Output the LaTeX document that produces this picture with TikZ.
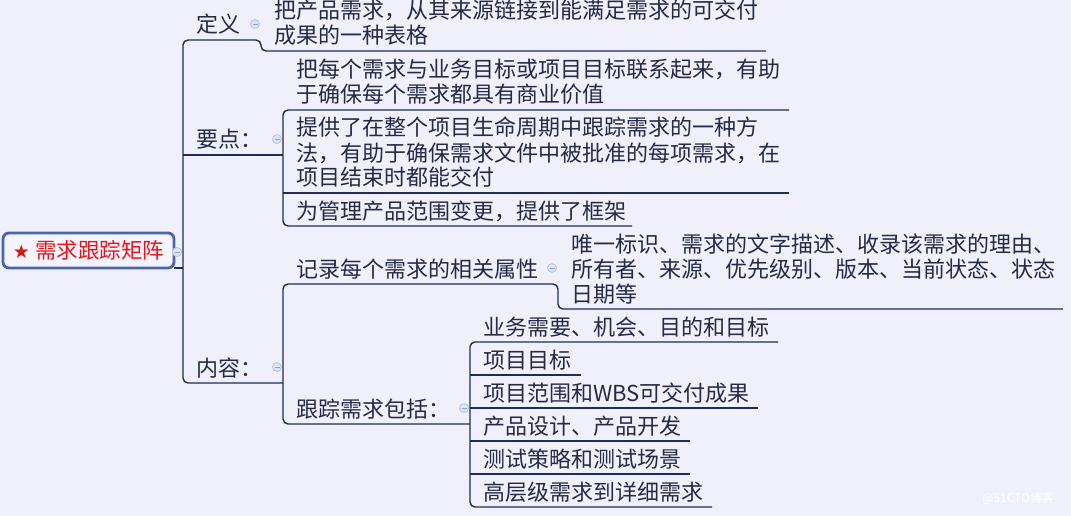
\documentclass[tikz,border=0pt]{standalone}
\usepackage{fontspec}
\setmainfont{Noto Sans CJK SC}
\newfontfamily\symfont{DejaVu Sans}
\usetikzlibrary{calc}
\definecolor{bg}{HTML}{F0F0FA}
\definecolor{ln}{HTML}{1E2C5A}
\definecolor{tx}{HTML}{242A48}
\definecolor{rootbd}{HTML}{4A64B0}
\definecolor{rootfill}{HTML}{F4F4FC}
\definecolor{rootred}{HTML}{E8141C}
\definecolor{starred}{HTML}{D01818}
\definecolor{cbd}{HTML}{B4C3E6}
\definecolor{cfill}{HTML}{DDE4F4}
\definecolor{cmin}{HTML}{8FA3D4}
\begin{document}
\begin{tikzpicture}[x=1pt,y=-1pt,
  topic/.style={anchor=south west, inner xsep=13pt, inner ysep=7pt, outer sep=0pt,
    text depth=0pt, font=\fontsize{22}{25}\selectfont, text=tx, align=left},
  twolines/.style={text depth=25pt},
  threelines/.style={text depth=50pt},
  conn/.style={draw=ln, line width=1.4pt, rounded corners=5pt},
  rootbox/.style={draw=rootbd, fill=rootfill, line width=2.8pt, rounded corners=6pt,
    minimum width=171pt, minimum height=35pt, inner sep=0pt, outer sep=0pt,
    font=\fontsize{21.5}{25}\selectfont, text=rootred},
  collapse/.style={circle, minimum size=9pt, inner sep=0pt, draw=cbd, fill=cfill, line width=0.8pt,
    path picture={\draw[cmin, line width=0.9pt] ($(path picture bounding box.center)+(-2.5pt,0pt)$) -- ++(5pt,0pt);}}
]
\fill[bg] (0,0) rectangle (1071,516);
\useasboundingbox (0,0) rectangle (1071,516);

% root
\node[rootbox] (root) at (88.5,250.5) {{\symfont\fontsize{19}{19}\selectfont\color{starred}★}\kern5pt需求跟踪矩阵};

% first level
\node[topic, text width=52pt]  (def) at (183,40)  {定义};
\node[topic, text width=74pt]  (yd)  at (183,155) {要点：};
\node[topic, text width=74pt]  (nr)  at (183,383) {内容：};

% children of 定义
\node[topic, twolines, text width=479pt] (dc) at (261,51) {把产品需求，从其来源链接到能满足需求的可交付\\成果的一种表格};

% children of 要点
\node[topic, twolines, text width=480pt] (y1) at (283,110) {把每个需求与业务目标或项目目标联系起来，有助\\于确保每个需求都具有商业价值};
\node[topic, threelines, text width=480pt] (y2) at (283,193) {提供了在整个项目生命周期中跟踪需求的一种方\\法，有助于确保需求文件中被批准的每项需求，在\\项目结束时都能交付};
\node[topic, text width=323pt] (y3) at (283,226) {为管理产品范围变更，提供了框架};

% children of 内容
\node[topic, text width=249pt] (c1)  at (283,284) {记录每个需求的相关属性};
\node[topic, threelines, text width=479pt] (c1c) at (558,309) {唯一标识、需求的文字描述、收录该需求的理由、\\所有者、来源、优先级别、版本、当前状态、状态\\日期等};
\node[topic, text width=161pt] (c2)  at (283,424) {跟踪需求包括：};

% children of 跟踪需求包括
\node[topic, text width=282pt] (t1) at (470,342) {业务需要、机会、目的和目标};
\node[topic, text width=85pt]  (t2) at (470,375) {项目目标};
\node[topic, text width=262pt] (t3) at (470,408) {项目范围和WBS可交付成果};
\node[topic, text width=194pt] (t4) at (470,441) {产品设计、产品开发};
\node[topic, text width=194pt] (t5) at (470,474) {测试策略和测试场景};
\node[topic, text width=216pt] (t6) at (470,507) {高层级需求到详细需求};

% connectors
\draw[conn] (dc.south east) -| (def.south east) -- (def.south west) -- (nr.south west) -- (nr.south east);
\draw[conn] (root.south east) -- (root.south east -| def.south west);
\draw[conn] (yd.south west) -- (yd.south east);
\draw[conn] (y1.south east) -- (y1.south west) -- (y3.south west) -- (y3.south east);
\draw[conn] (y2.south west) -- (y2.south east);
\draw[conn] (c2.south east) -- (c2.south west) -- (c1.south west) -- (c1.south east) |- (c1c.south east);
\draw[conn] (t1.south east) -- (t1.south west) -- (t6.south west) -- (t6.south east);
\draw[conn] (t2.south west) -- (t2.south east);
\draw[conn] (t3.south west) -- (t3.south east);
\draw[conn] (t4.south west) -- (t4.south east);
\draw[conn] (t5.south west) -- (t5.south east);

% collapse markers
\node[collapse] (k0) at ($(root.south east)+(3,-16)$) {};
\node[collapse] (k1) at ($(def.south east)+(-6,-16)$) {};
\node[collapse] (k2) at ($(yd.south east)+(-6,-16)$) {};
\node[collapse] (k3) at ($(nr.south east)+(-6,-16)$) {};
\node[collapse] (k4) at ($(c1.south east)+(-6,-16)$) {};
\node[collapse] (k5) at ($(c2.south east)+(-6,-16)$) {};

% watermark
\node[font=\fontsize{12}{12}\selectfont, text=white, inner sep=0pt] (wm) at (1018,498) {@51CTO博客};
\end{tikzpicture}
\end{document}
